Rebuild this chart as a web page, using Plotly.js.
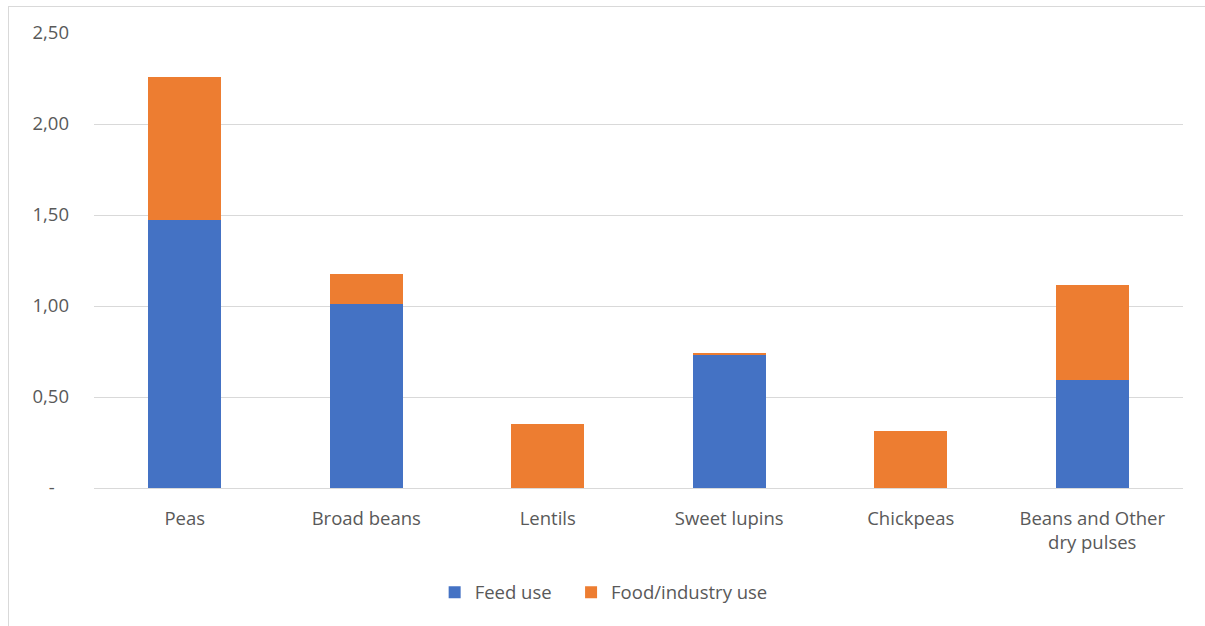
<!DOCTYPE html>
<html>
<head>
<meta charset="utf-8">
<script src="https://cdn.plot.ly/plotly-3.0.1.min.js"></script>
<style>
  html, body { margin: 0; padding: 0; background: #fff; }
  #wrap { position: relative; width: 1205px; height: 626px; overflow: hidden; }
  #chart { position: absolute; left: 0; top: 0; width: 1205px; height: 626px; }
  #frame { position: absolute; left: 8px; top: 6px; width: 1200px; height: 640px; border: 1px solid #d9d9d9; pointer-events: none; }
</style>
</head>
<body>
<div id="wrap">
  <div id="chart"></div>
  <div id="frame"></div>
</div>
<script>
const categories = ["Peas", "Broad beans", "Lentils", "Sweet lupins", "Chickpeas", "Beans and Other<br>dry pulses"];
const feedUse = [1.475, 1.01, 0, 0.732, 0, 0.592];
const foodIndustryUse = [0.781, 0.168, 0.351, 0.011, 0.313, 0.521];
const seriesNames = ["Feed use", "Food/industry use"];
const yTickVals = [0, 0.5, 1, 1.5, 2, 2.5];
const yTickText = ["-\u00a0\u00a0\u00a0", "0,50", "1,00", "1,50", "2,00", "2,50"];

const traces = [
  { type: "bar", name: seriesNames[0] + "\u00a0\u00a0\u00a0", x: categories, y: feedUse, marker: { color: "#4472C4" } },
  { type: "bar", name: seriesNames[1], x: categories, y: foodIndustryUse, marker: { color: "#ED7D31" } }
];

const layout = {
  width: 1205, height: 626,
  barmode: "stack",
  bargap: 0.6,
  margin: { l: 94, r: 22, t: 33, b: 138 },
  paper_bgcolor: "#ffffff",
  plot_bgcolor: "#ffffff",
  font: { family: "Open Sans, Liberation Sans, sans-serif", size: 18.5, color: "#595959" },
  xaxis: {
    showgrid: false, zeroline: false, showline: true, linecolor: "#d9d9d9", linewidth: 1,
    ticks: "", ticklabelstandoff: 14, tickfont: { size: 18.5, color: "#595959" }, fixedrange: true
  },
  yaxis: {
    range: [0, 2.5], tickvals: yTickVals, ticktext: yTickText,
    showgrid: true, gridcolor: "#d9d9d9", gridwidth: 1, zeroline: false, showline: false,
    ticks: "", ticklabelstandoff: 24, tickfont: { size: 18.5, color: "#595959" }, fixedrange: true
  },
  legend: {
    orientation: "h", x: 0.468, xanchor: "center", y: -0.23, yanchor: "middle",
    font: { size: 18.5, color: "#595959" }, itemwidth: 30, traceorder: "normal"
  },
  showlegend: true
};

Plotly.newPlot("chart", traces, layout, { displayModeBar: false, staticPlot: true });
</script>
</body>
</html>
